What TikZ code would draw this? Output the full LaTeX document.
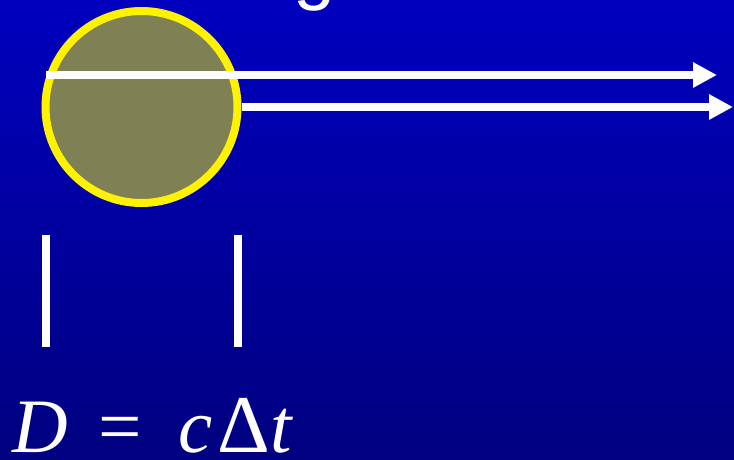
\documentclass[tikz,border=0pt]{standalone}
\usepackage{fontspec}
\setmainfont{Liberation Serif}
\newfontfamily\titlefont{Liberation Sans}
\usetikzlibrary{arrows.meta,positioning,calc}

\definecolor{skytop}{RGB}{0,0,190}
\definecolor{skybottom}{RGB}{0,0,128}
\definecolor{sunfill}{RGB}{128,128,85}

\begin{document}
\begin{tikzpicture}[
    x=1pt, y=-1pt,
    sun/.style={
        circle,
        draw=yellow,
        fill=sunfill,
        line width=8pt,
        minimum size=192pt,
        inner sep=0pt
    },
    ray/.style={
        white,
        line width=8pt,
        -{Triangle[length=24pt,width=24pt]}
    },
    tick/.style={white, line width=8pt},
    formula/.style={text=white, font=\fontsize{77}{80}\selectfont, inner sep=0pt}
]

% ============================================================
% Background
% ============================================================

\shade[top color=skytop, bottom color=skybottom] (0,0) rectangle (734,459);
\useasboundingbox (0,0) rectangle (734,459);

% Title letter cut by the top edge
\begin{scope}
\clip (0,0) rectangle (734,459);
\node[text=white, font=\titlefont\fontsize{76}{80}\selectfont, inner sep=0pt,
    anchor=base west] (title) at (293,-5) {g};
\end{scope}

% ============================================================
% Star and its light
% ============================================================

\node[sun] (star) at (141.5,107) {};

\coordinate (rayone) at (46,75);
\coordinate (rayoneend) at (717,75);
\coordinate (raytwoend) at (733,107);

\draw[ray] (rayone) -- (rayoneend);
\draw[ray] (star.east) -- (raytwoend);

% ============================================================
% Diameter marks
% ============================================================

\coordinate (lefttop) at (46,235);
\coordinate (leftbottom) at (46,347);
\coordinate (righttop) at (238,235);
\coordinate (rightbottom) at (238,347);

\draw[tick] (lefttop) -- (leftbottom);
\draw[tick] (righttop) -- (rightbottom);

\node[formula, anchor=base west] (distance) at (12,452)
    {\textit{D}\hspace{0.4em}=\hspace{0.48em}\textit{c}\hspace{0.06em}{\fontsize{82}{80}\selectfont Δ}\textit{t}};

\end{tikzpicture}
\end{document}
